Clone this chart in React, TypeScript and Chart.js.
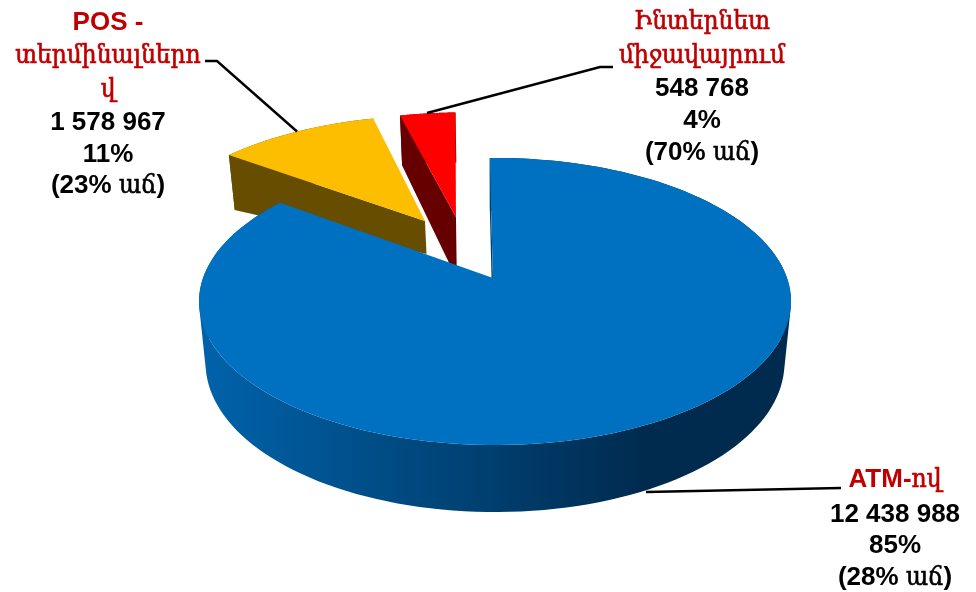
import React, { useEffect, useRef } from "react";
import { Chart, registerables } from "chart.js";

Chart.register(...registerables);

// ---- data ----
const categories = ["ATM-ով", "POS - տերմինալներով", "Ինտերնետ միջավայրում"];
const amounts = [12438988, 1578967, 548768];
const sharesText = ["85%", "11%", "4%"];
const amountsText = ["12 438 988", "1 578 967", "548 768"];
const growthText = ["(28% աճ)", "(23% աճ)", "(70% աճ)"];
const categoryLines = [["ATM-ով"], ["POS -", "տերմինալներո", "վ"], ["Ինտերնետ", "միջավայրում"]];

// ---- styles ----
const topColors = ["#0070C0", "#FDBE00", "#FF0000"];
const wallColors = ["#003F6F", "#664D00", "#660000"];
const labelRed = "#C00000";
const LATIN_FONT = 'bold 26px "Liberation Sans", sans-serif';
const ARMENIAN_FONT = '26px "DejaVu Serif", serif';
const ARMENIAN_STRETCH = 0.9;
const ARMENIAN_STROKE = 0.7;

// perspective of the pie plane
const CX = 495, CY = 278, RX = 292, RY = 139.7, P = 0.1638, BOTTOM_SHRINK = 0.978;
const rimOffset = [[0, 0], [-0.258, -0.437], [-0.147, -0.47]];
const apexOffset = [[-0.007, 0], [-0.257, -0.437], [-0.144, -0.47]];
const rimDepth = [[60, 7], [55, 0], [50, 0]];
const apexDepth = [60, 33, 62];
const leaders = [
  [[646, 492], [841, 488]],
  [[205, 61], [217, 61], [297, 131.5]],
  [[427, 113], [600, 67], [613, 67]],
];
const labelX = [895, 108, 702];
const labelBaselines = [
  [487, 522, 553, 585],
  [30, 63, 97, 130, 162, 193],
  [29, 63, 96, 128, 160],
];

type Pt = { x: number; y: number };
const project = (u: number, v: number): Pt => {
  const w = 1 - P * v;
  return { x: CX + (RX * u) / w, y: CY + (RY * v) / w };
};
const drop = (p: Pt, depth: number): Pt => ({
  x: CX + (p.x - CX) * BOTTOM_SHRINK,
  y: p.y + depth,
});
const addPoly = (ctx: CanvasRenderingContext2D, pts: Pt[]) => {
  pts.forEach((p, i) => (i ? ctx.lineTo(p.x, p.y) : ctx.moveTo(p.x, p.y)));
  ctx.closePath();
};
const fillPoly = (ctx: CanvasRenderingContext2D, pts: Pt[], fill: any) => {
  ctx.beginPath();
  addPoly(ctx, pts);
  ctx.fillStyle = fill;
  ctx.fill();
};
const area = (q: Pt[]) =>
  q.reduce((s, p, i) => {
    const n = q[(i + 1) % q.length];
    return s + p.x * n.y - n.x * p.y;
  }, 0);

// Split a line into Latin and Armenian runs, and draw them centred on x.
const drawMixed = (ctx: CanvasRenderingContext2D, text: string, x: number, y: number, color: string) => {
  const runs = text.match(/[\u0530-\u058F]+|[^\u0530-\u058F]+/g) || [];
  const isArm = (r: string) => /[\u0530-\u058F]/.test(r);
  const widths = runs.map((r) => {
    ctx.font = isArm(r) ? ARMENIAN_FONT : LATIN_FONT;
    return ctx.measureText(r).width * (isArm(r) ? ARMENIAN_STRETCH : 1);
  });
  let cur = x - widths.reduce((a, b) => a + b, 0) / 2;
  ctx.fillStyle = color;
  ctx.strokeStyle = color;
  runs.forEach((r, i) => {
    const arm = isArm(r);
    ctx.font = arm ? ARMENIAN_FONT : LATIN_FONT;
    ctx.save();
    ctx.translate(cur, y);
    if (arm) {
      ctx.scale(ARMENIAN_STRETCH, 1);
      ctx.lineWidth = ARMENIAN_STROKE;
      ctx.strokeText(r, 0, 0);
    }
    ctx.fillText(r, 0, 0);
    ctx.restore();
    cur += widths[i];
  });
};

const pie3d = {
  id: "pie3d",
  beforeDatasetsDraw(chart: any) {
    const ctx: CanvasRenderingContext2D = chart.ctx;
    const arcs = chart.getDatasetMeta(0).data;
    const colors = chart.data.datasets[0].backgroundColor;
    const order = [1, 2, 0];
    for (const i of order) {
      const arc = arcs[i];
      const { startAngle, endAngle } = arc.getProps(["startAngle", "endAngle"], true);
      const [ou, ov] = rimOffset[i];
      const [au, av] = apexOffset[i];
      const [d0, d1] = rimDepth[i];
      const n = 160;
      const rim: Pt[] = [];
      const rimLow: Pt[] = [];
      for (let k = 0; k <= n; k++) {
        const t = startAngle + ((endAngle - startAngle) * k) / n;
        const u = Math.cos(t) + ou;
        const v = Math.sin(t) + ov;
        const p = project(u, v);
        rim.push(p);
        rimLow.push(drop(p, d0 + d1 * v));
      }
      const apex = project(au, av);
      const apexLow = drop(apex, apexDepth[i]);
      let wall: any = wallColors[i];
      if (i === 0) {
        const g = ctx.createLinearGradient(199, 0, 791, 0);
        g.addColorStop(0, "#0063AB");
        g.addColorStop(0.49, "#003F6F");
        g.addColorStop(0.76, "#002A4E");
        g.addColorStop(1, "#002A4E");
        wall = g;
      }
      // outer wall: one consistently wound quad per step, so it never cancels itself
      ctx.beginPath();
      for (let k = 0; k < n; k++) {
        const q = [rim[k], rim[k + 1], rimLow[k + 1], rimLow[k]];
        addPoly(ctx, area(q) < 0 ? q.slice().reverse() : q);
      }
      ctx.fillStyle = wall;
      ctx.fill();
      // radial wall of the leading edge
      fillPoly(ctx, [rim[0], rimLow[0], apexLow, apex], wall);
      // top face
      fillPoly(ctx, [apex, ...rim], colors[i]);
    }
    return false;
  },
  afterDraw(chart: any) {
    const ctx: CanvasRenderingContext2D = chart.ctx;
    ctx.save();
    ctx.strokeStyle = "#000000";
    ctx.lineWidth = 2.4;
    leaders.forEach((line) => {
      ctx.beginPath();
      line.forEach(([x, y], i) => (i ? ctx.lineTo(x, y) : ctx.moveTo(x, y)));
      ctx.stroke();
    });
    ctx.textAlign = "left";
    ctx.textBaseline = "alphabetic";
    categories.forEach((_, i) => {
      const lines = [...categoryLines[i], amountsText[i], sharesText[i], growthText[i]];
      const nameCount = categoryLines[i].length;
      lines.forEach((text, k) => {
        drawMixed(ctx, text, labelX[i], labelBaselines[i][k], k < nameCount ? labelRed : "#000000");
      });
    });
    ctx.restore();
  },
};

export default function App() {
  const ref = useRef<HTMLCanvasElement>(null);
  useEffect(() => {
    const chart = new Chart(ref.current as HTMLCanvasElement, {
      type: "pie",
      data: {
        labels: categories,
        datasets: [{ data: amounts, backgroundColor: topColors, borderWidth: 0 }],
      },
      options: {
        animation: false,
        responsive: false,
        rotation: -1.2,
        plugins: { legend: { display: false }, tooltip: { enabled: false } },
      },
      plugins: [pie3d],
    } as any);
    return () => chart.destroy();
  }, []);
  return (
    <div style={{ position: "absolute", left: 0, top: 0, width: 976, height: 592, background: "#fff" }}>
      <canvas ref={ref} width={976} height={592} style={{ display: "block" }} />
    </div>
  );
}
